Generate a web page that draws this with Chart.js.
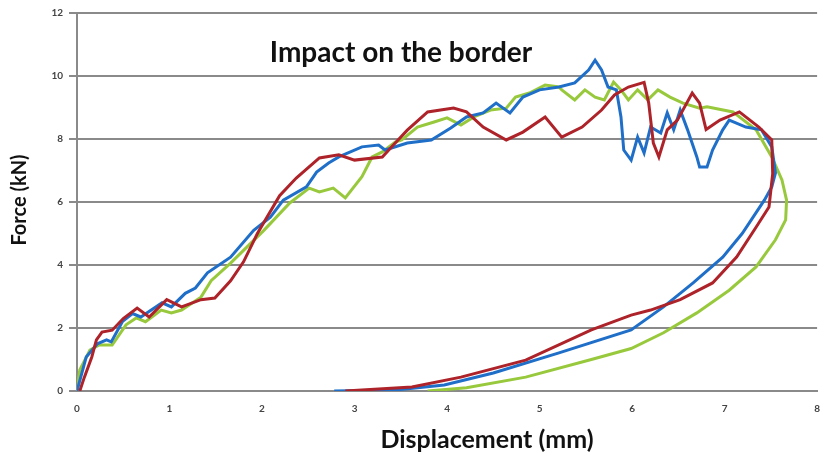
<!DOCTYPE html>
<html>
<head>
<meta charset="utf-8">
<script src="https://cdn.jsdelivr.net/npm/chart.js@4"></script>
<style>
  html, body { margin: 0; padding: 0; background: #fff; }
  #wrap { width: 832px; height: 457px; }
</style>
</head>
<body>
<div id="wrap"><canvas id="forceChart"></canvas></div>
<script>
// displacement (mm) / force (kN) along each loop
const redX = [0.03, 0.08, 0.16, 0.21, 0.27, 0.38, 0.5, 0.65, 0.78, 0.97, 1.13, 1.34, 1.49, 1.66, 1.8, 1.95, 2.19, 2.37, 2.62, 2.83, 3.0, 3.3, 3.44, 3.57, 3.79, 4.07, 4.21, 4.39, 4.64, 4.82, 5.06, 5.24, 5.46, 5.67, 5.81, 5.96, 6.13, 6.18, 6.23, 6.29, 6.38, 6.49, 6.65, 6.73, 6.8, 6.95, 7.16, 7.37, 7.51, 7.52, 7.48, 7.34, 7.13, 6.87, 6.52, 6.2, 5.99, 5.56, 4.85, 4.15, 3.62, 3.08, 2.9];
const redY = [0, 0.44, 1.08, 1.62, 1.87, 1.93, 2.3, 2.63, 2.35, 2.9, 2.67, 2.9, 2.95, 3.5, 4.1, 5.0, 6.2, 6.76, 7.4, 7.5, 7.33, 7.43, 7.87, 8.28, 8.86, 8.98, 8.86, 8.38, 7.97, 8.22, 8.7, 8.06, 8.38, 8.92, 9.4, 9.65, 9.8, 9.14, 7.87, 7.43, 8.29, 8.6, 9.46, 9.14, 8.3, 8.6, 8.86, 8.38, 7.97, 6.9, 5.84, 5.2, 4.25, 3.43, 2.9, 2.57, 2.41, 1.94, 0.98, 0.44, 0.13, 0.03, 0];

const blueX = [0, 0.1, 0.22, 0.32, 0.37, 0.49, 0.6, 0.69, 0.92, 1.02, 1.17, 1.28, 1.41, 1.66, 1.91, 2.09, 2.23, 2.48, 2.59, 2.72, 2.83, 3.08, 3.26, 3.33, 3.57, 3.83, 4.04, 4.21, 4.39, 4.53, 4.68, 4.82, 5.0, 5.21, 5.38, 5.53, 5.6, 5.67, 5.74, 5.83, 5.88, 5.91, 5.99, 6.06, 6.13, 6.2, 6.31, 6.38, 6.45, 6.52, 6.6, 6.7, 6.73, 6.81, 6.87, 6.98, 7.05, 7.23, 7.4, 7.51, 7.55, 7.51, 7.43, 7.19, 6.98, 6.66, 6.34, 5.99, 5.21, 4.5, 3.97, 3.44, 2.78];
const blueY = [0, 1.08, 1.5, 1.62, 1.56, 2.2, 2.46, 2.35, 2.8, 2.67, 3.1, 3.27, 3.75, 4.25, 5.1, 5.52, 6.06, 6.48, 6.95, 7.24, 7.43, 7.75, 7.81, 7.65, 7.87, 7.97, 8.35, 8.7, 8.83, 9.14, 8.83, 9.33, 9.56, 9.65, 9.78, 10.19, 10.5, 10.19, 9.65, 9.56, 8.7, 7.65, 7.33, 8.06, 7.56, 8.38, 8.19, 8.83, 8.29, 8.92, 8.29, 7.43, 7.11, 7.11, 7.65, 8.29, 8.6, 8.38, 8.29, 7.75, 6.92, 6.48, 6.06, 5.0, 4.25, 3.43, 2.67, 1.94, 1.21, 0.57, 0.19, 0.03, 0];

const greenX = [0, 0.03, 0.14, 0.24, 0.38, 0.53, 0.64, 0.74, 0.91, 1.02, 1.13, 1.34, 1.45, 1.66, 2.02, 2.3, 2.51, 2.62, 2.77, 2.9, 3.08, 3.19, 3.3, 3.44, 3.51, 3.68, 3.86, 4.0, 4.15, 4.29, 4.47, 4.64, 4.74, 4.89, 5.06, 5.21, 5.24, 5.38, 5.49, 5.6, 5.7, 5.8, 5.88, 5.96, 6.06, 6.17, 6.28, 6.41, 6.55, 6.73, 6.81, 7.09, 7.34, 7.51, 7.62, 7.67, 7.66, 7.55, 7.34, 7.05, 6.7, 6.34, 5.99, 5.56, 4.85, 4.21, 3.79];
const greenY = [0, 0.67, 1.3, 1.46, 1.46, 2.1, 2.32, 2.2, 2.57, 2.48, 2.57, 2.98, 3.5, 4.06, 5.1, 5.97, 6.44, 6.32, 6.44, 6.13, 6.8, 7.43, 7.59, 7.9, 7.97, 8.38, 8.54, 8.67, 8.44, 8.7, 8.92, 8.98, 9.33, 9.46, 9.71, 9.65, 9.56, 9.24, 9.56, 9.33, 9.24, 9.81, 9.56, 9.24, 9.56, 9.24, 9.56, 9.33, 9.14, 8.98, 9.02, 8.86, 8.29, 7.43, 6.7, 6.06, 5.43, 4.8, 3.94, 3.2, 2.48, 1.85, 1.35, 1.0, 0.44, 0.1, 0];

const xTicks = [0, 1, 2, 3, 4, 5, 6, 7, 8];
const yTicks = [0, 2, 4, 6, 8, 10, 12];

function pts(xs, ys) {
    return xs.map((x, i) => ({ x: x, y: ys[i] }));
}

const lineStyle = { showLine: true, pointRadius: 0, borderWidth: 3, tension: 0, fill: false };

// titles are placed like the original (chart title inside the plot, x title off-centre)
const titleText = {
    id: 'titleText',
    afterDraw(chart) {
        const c = chart.ctx;
        c.save();
        c.fillStyle = '#111';
        c.textAlign = 'center';
        c.textBaseline = 'middle';
        c.font = 'bold 28px Lato';
        c.fillText('Impact on the border', 401, 53);
        c.font = 'bold 25px Lato';
        c.fillText('Displacement (mm)', 487, 440);
        c.translate(20, 200);
        c.rotate(-Math.PI / 2);
        c.font = 'bold 20px Lato';
        c.fillText('Force (kN)', 0, 0);
        c.restore();
    }
};

const ctx = document.getElementById('forceChart').getContext('2d');

const forceChart = new Chart(ctx, {
    type: 'scatter',
    data: {
        datasets: [
            Object.assign({ label: 'Test 1', data: pts(redX, redY), borderColor: '#ad2329' }, lineStyle),
            Object.assign({ label: 'Test 2', data: pts(blueX, blueY), borderColor: '#1f6fc9' }, lineStyle),
            Object.assign({ label: 'Test 3', data: pts(greenX, greenY), borderColor: '#98c93c' }, lineStyle)
        ]
    },
    options: {
        responsive: true,
        maintainAspectRatio: false,
        animation: false,
        layout: { padding: { top: 13, right: 4, left: 0, bottom: 0 } },
        plugins: {
            legend: { display: false },
            tooltip: { enabled: false }
        },
        scales: {
            x: {
                type: 'linear',
                min: 0,
                max: 8,
                afterBuildTicks: (axis) => { axis.ticks = xTicks.map(v => ({ value: v })); },
                afterFit: (axis) => { axis.height = 66; },
                grid: { display: false, drawTicks: false },
                border: { display: true, color: '#8a8a8a', width: 2 },
                ticks: { padding: 12, color: '#444', font: { family: 'Lato', weight: 'bold', size: 10 } }
            },
            y: {
                min: 0,
                max: 12,
                afterBuildTicks: (axis) => { axis.ticks = yTicks.map(v => ({ value: v })); },
                afterFit: (axis) => { axis.width = 77; },
                grid: { color: '#8a8a8a', lineWidth: 2, tickLength: 8 },
                border: { display: true, color: '#8a8a8a', width: 2 },
                ticks: { padding: 6, color: '#444', font: { family: 'Lato', weight: 'bold', size: 10 } }
            }
        }
    },
    plugins: [titleText]
});
</script>
</body>
</html>
